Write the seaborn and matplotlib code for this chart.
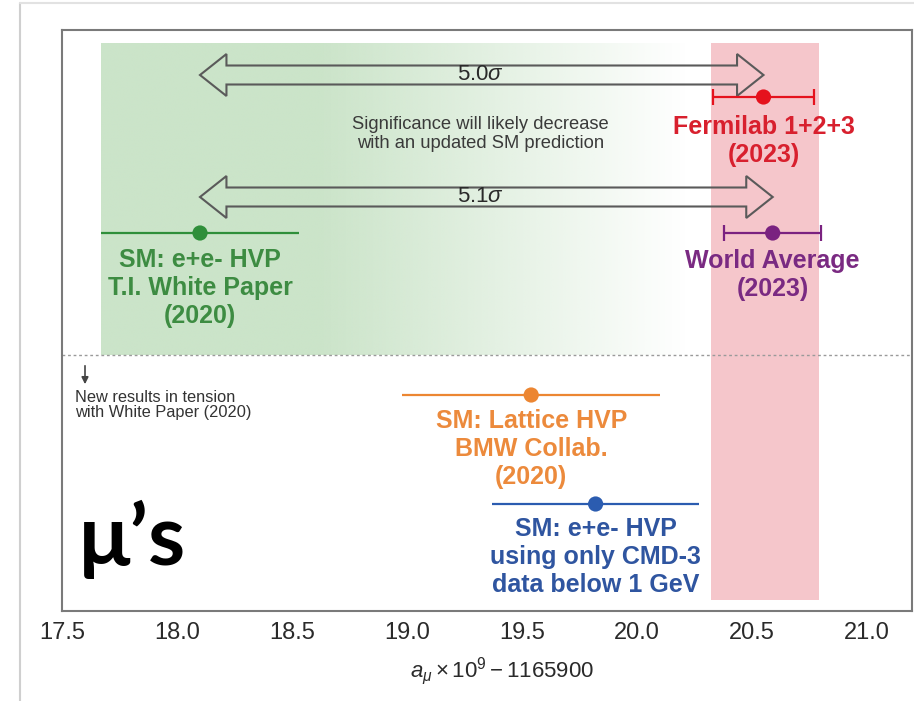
import numpy as np
import pandas as pd
import matplotlib
matplotlib.use("Agg")
import matplotlib.pyplot as plt
import seaborn as sns
from matplotlib.patches import Polygon
from matplotlib.lines import Line2D

# ---------------- data ----------------
names = ["Fermilab 1+2+3\n(2023)", "World Average\n(2023)",
         "SM: e+e- HVP\nT.I. White Paper\n(2020)",
         "SM: Lattice HVP\nBMW Collab.\n(2020)",
         "SM: e+e- HVP\nusing only CMD-3\ndata below 1 GeV"]
values = [20.55, 20.59, 18.10, 19.54, 19.82]
errors = [0.22, 0.21, 0.43, 0.56, 0.45]
capped = [True, True, False, False, False]
colors = ["#e5121d", "#7a2280", "#2f8f3a", "#ec8632", "#2b5cb0"]
text_colors = ["#d8202e", "#7a2a82", "#3d8c42", "#ec8a3c", "#2f55a0"]
rows = [97, 233, 233, 395, 504]          # vertical slot of each result
label_gap = [18, 16, 15, 14, 13]         # gap between point and its label
sigma_labels = ["5.0$\\sigma$", "5.1$\\sigma$"]
sigma_rows = [75, 197]
sigma_targets = [0, 1]                    # arrows from White Paper to these results
band_exp = (20.32, 20.79)                 # experimental band
xticks = [17.5, 18.0, 18.5, 19.0, 19.5, 20.0, 20.5, 21.0]

df = pd.DataFrame({"name": names, "value": values, "err": errors, "row": rows})

# ---------------- style ----------------
sns.set_theme(style="white")
plt.rcParams["font.family"] = ["Liberation Sans", "DejaVu Sans"]
plt.rcParams["mathtext.fontset"] = "custom"
plt.rcParams["mathtext.rm"] = "Liberation Sans"
plt.rcParams["mathtext.it"] = "Liberation Sans:italic"

fig = plt.figure(figsize=(9.14, 7.01), dpi=100)
fig.patch.set_facecolor("white")
ax = fig.add_axes([62 / 914, 1 - 611 / 701, 850 / 914, (611 - 30) / 701])
ax.set_xlim(17.5, 17.5 + 850 / 230)
ax.set_ylim(611, 30)

# outer screenshot frame
fig.add_artist(Line2D([20 / 914, 20 / 914], [0, 1 - 3 / 701], color="#cfcfcf", lw=1.5))
fig.add_artist(Line2D([20 / 914, 1], [1 - 3 / 701, 1 - 3 / 701], color="#e2e2e2", lw=1.5))

# green gradient band (White Paper)
wp = values[2] - errors[2]
xs = np.linspace(0, 1, 400)
xg = wp + xs * (20.3 - wp)
alpha = np.clip((20.22 - xg) / (20.22 - 18.62), 0, 1)
img = np.zeros((2, xs.size, 4))
img[..., 0] = 203 / 255
img[..., 1] = 228 / 255
img[..., 2] = 201 / 255
img[..., 3] = alpha[None, :]
ax.imshow(img, extent=[wp, 20.3, 355, 43], aspect="auto", zorder=0, interpolation="bilinear")

# red experimental band
ax.axvspan(band_exp[0], band_exp[1], ymin=(611 - 600) / 581, ymax=(611 - 43) / 581,
           color="#f5c6cb", zorder=0.5, lw=0)

# separator
ax.axhline(355, color="#9a9a9a", lw=1.0, ls=(0, (2, 2)), zorder=1)

# error bars
for v, e, r, c, cap in zip(values, errors, rows, colors, capped):
    ax.errorbar(v, r, xerr=e, fmt="none", ecolor=c, elinewidth=1.6,
                capsize=6 if cap else 0, capthick=1.6, zorder=3)

# points via seaborn
sns.scatterplot(data=df, x="value", y="row", hue="name", palette=colors,
                s=120, edgecolor="none", legend=False, ax=ax, zorder=4)

# labels
for v, r, g, n, tc in zip(values, rows, label_gap, names, text_colors):
    ax.text(v, r + g, n, color=tc, fontsize=18, fontweight="bold",
            ha="center", va="top", linespacing=1.2, zorder=5)

# hollow double arrows
def double_arrow(x0, x1, yc, hl=0.115, hh=21, sh=9.5):
    pts = [(x0, yc), (x0 + hl, yc - hh), (x0 + hl, yc - sh), (x1 - hl, yc - sh),
           (x1 - hl, yc - hh), (x1, yc), (x1 - hl, yc + hh), (x1 - hl, yc + sh),
           (x0 + hl, yc + sh), (x0 + hl, yc + hh)]
    ax.add_patch(Polygon(pts, closed=True, fill=False, edgecolor="#5a5a5a", lw=1.5, zorder=2))

xmid = 19.32
for lab, yr, t in zip(sigma_labels, sigma_rows, sigma_targets):
    double_arrow(values[2], values[t], yr)
    ax.text(xmid, yr, lab, fontsize=16, ha="center", va="center", color="#2a2a2a", zorder=5)

ax.text(xmid, 134, "Significance will likely decrease\nwith an updated SM prediction",
        fontsize=13.2, ha="center", va="center", color="#3a3a3a", linespacing=1.2, zorder=5)

# tension note
ax.annotate("", xy=(17.60, 387), xytext=(17.60, 363),
            arrowprops=dict(arrowstyle="-|>", color="#444444", lw=1.2, mutation_scale=10))
ax.text(17.555, 390, "New results in tension\nwith White Paper (2020)", fontsize=11.8,
        ha="left", va="top", color="#333333", linespacing=1.0)

# mu's
ax.text(17.575, 565, "\u03bc\u2019s", fontsize=61, fontweight="bold", family="Lato",
        ha="left", va="baseline", color="black")

# axes styling
ax.set_xticks(xticks)
ax.set_xticklabels([f"{t:.1f}" for t in xticks], fontsize=17, color="#2a2a2a")
ax.set_yticks([])
ax.tick_params(axis="x", direction="out", length=4, width=1, color="#888888", pad=4)
for s in ax.spines.values():
    s.set_color("#7a7a7a")
    s.set_linewidth(1.5)
ax.set_xlabel("$a_\\mu \\times 10^9 - 1165900$", fontsize=16, color="#2a2a2a", labelpad=11)
ax.xaxis.set_label_coords(0.518, -0.075)
ax.set_ylabel("")

fig.savefig("out.png", dpi=100)
